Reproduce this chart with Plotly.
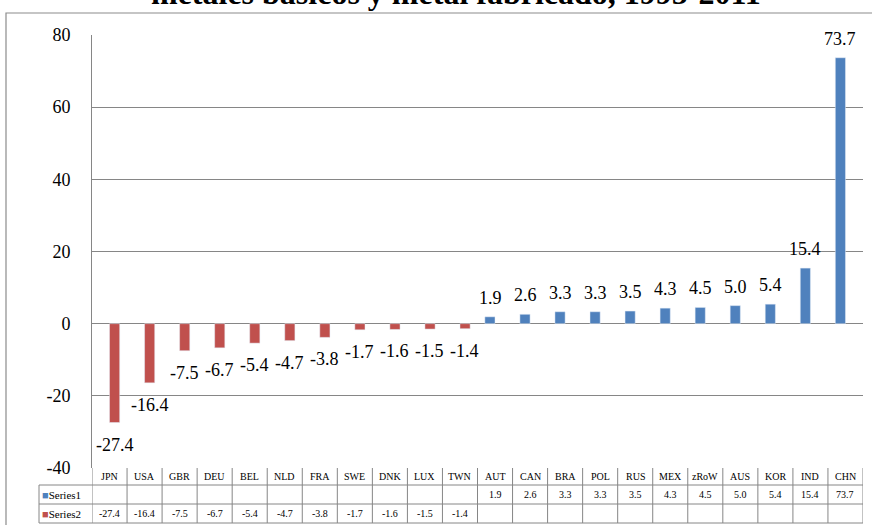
import plotly.graph_objects as go

categories = ["JPN", "USA", "GBR", "DEU", "BEL", "NLD", "FRA", "SWE", "DNK", "LUX", "TWN",
              "AUT", "CAN", "BRA", "POL", "RUS", "MEX", "zRoW", "AUS", "KOR", "IND", "CHN"]
series1 = [None] * 11 + [1.9, 2.6, 3.3, 3.3, 3.5, 4.3, 4.5, 5.0, 5.4, 15.4, 73.7]
series2 = [-27.4, -16.4, -7.5, -6.7, -5.4, -4.7, -3.8, -1.7, -1.6, -1.5, -1.4] + [None] * 11
series_names = ["Series1", "Series2"]
y_ticks = [-40, -20, 0, 20, 40, 60, 80]
y_tick_labels = ["-40", "-20", "0", "20", "40", "60", "80"]
title_text = "metales básicos y metal fabricado, 1995-2011"

BLUE = "#4F81BD"
RED = "#C0504D"
GRID = "#868686"
FONT = "Liberation Serif"

W, H = 872, 525
ML, MR, MT, MB = 92, 9, 35, 57
PW, PH = W - ML - MR, H - MT - MB


def px(p):
    return (p - ML) / PW


def py(p):
    return (H - MB - p) / PH


fig = go.Figure()
fig.add_trace(go.Bar(x=categories, y=series1, name=series_names[0], marker_color=BLUE))
fig.add_trace(go.Bar(x=categories, y=series2, name=series_names[1], marker_color=RED))

annotations = []
# data labels
for c, v in zip(categories, series1):
    if v is not None:
        annotations.append(dict(x=c, y=v, xref="x", yref="y", text=f"{v:.1f}", showarrow=False,
                                xshift=-5, yshift=19, yanchor="middle",
                                font=dict(family=FONT, size=18, color="black")))
for c, v in zip(categories, series2):
    if v is not None:
        annotations.append(dict(x=c, y=v, xref="x", yref="y", text=f"{v:.1f}", showarrow=False,
                                xshift=5, yshift=-22, yanchor="middle",
                                font=dict(family=FONT, size=18, color="black")))

# title (cut off at the top)
annotations.append(dict(x=px(456), y=py(-7), xref="paper", yref="paper", text=f"<b>{title_text}</b>",
                        showarrow=False, xanchor="center", yanchor="middle",
                        font=dict(family=FONT, size=32, color="black")))

shapes = []
line = dict(color=GRID, width=1)
# outer frame
shapes.append(dict(type="rect", xref="paper", yref="paper", x0=px(6), x1=px(W + 20), y0=py(H + 20), y1=py(13),
                   line=dict(color="#8C8C8C", width=1.2), layer="below"))

# data table
row_top = [468, 485, 504, 523]
n = len(categories)
for i in range(n + 1):
    shapes.append(dict(type="line", xref="x", yref="paper", x0=i - 0.5, x1=i - 0.5,
                       y0=py(row_top[0]), y1=py(row_top[3]), line=line))
for r in row_top[1:]:
    shapes.append(dict(type="line", xref="paper", yref="paper", x0=px(39), x1=1,
                       y0=py(r), y1=py(r), line=line))
shapes.append(dict(type="line", xref="paper", yref="paper", x0=px(39), x1=px(39),
                   y0=py(row_top[1]), y1=py(row_top[3]), line=line))

tfont = dict(family=FONT, size=10, color="black")
for i, c in enumerate(categories):
    annotations.append(dict(x=c, y=py((row_top[0] + row_top[1]) / 2), xref="x", yref="paper", text=c,
                            showarrow=False, yanchor="middle", font=tfont))
for row, vals in enumerate([series1, series2]):
    yc = py((row_top[row + 1] + row_top[row + 2]) / 2)
    for c, v in zip(categories, vals):
        if v is not None:
            annotations.append(dict(x=c, y=yc, xref="x", yref="paper", text=f"{v:.1f}",
                                    showarrow=False, yanchor="middle", font=tfont))
    col = BLUE if row == 0 else RED
    annotations.append(dict(x=px(40), y=yc, xref="paper", yref="paper", xanchor="left",
                            text=f"<span style='color:{col}'>■</span>{series_names[row]}",
                            showarrow=False, yanchor="middle",
                            font=dict(family=FONT, size=11, color="black")))

fig.update_layout(
    width=W, height=H,
    margin=dict(l=ML, r=MR, t=MT, b=MB),
    paper_bgcolor="white", plot_bgcolor="white",
    barmode="group", bargap=0.42, bargroupgap=0,
    showlegend=False,
    annotations=annotations, shapes=shapes,
    font=dict(family=FONT, color="black"),
)
fig.update_xaxes(showticklabels=False, showgrid=False, ticks="", showline=False, zeroline=False,
                 range=[-0.5, n - 0.5])
fig.update_yaxes(range=[-40, 80], tickvals=y_ticks, ticktext=y_tick_labels,
                 showgrid=True, gridcolor=GRID, gridwidth=1,
                 zeroline=True, zerolinecolor=GRID, zerolinewidth=1,
                 showline=True, linecolor=GRID, linewidth=1,
                 ticks="", ticklabelstandoff=17, tickfont=dict(family=FONT, size=18, color="black"))

fig.write_html("out.html", config={"displayModeBar": False},
               post_script="document.body.style.margin='0';document.body.style.overflow='hidden';")
